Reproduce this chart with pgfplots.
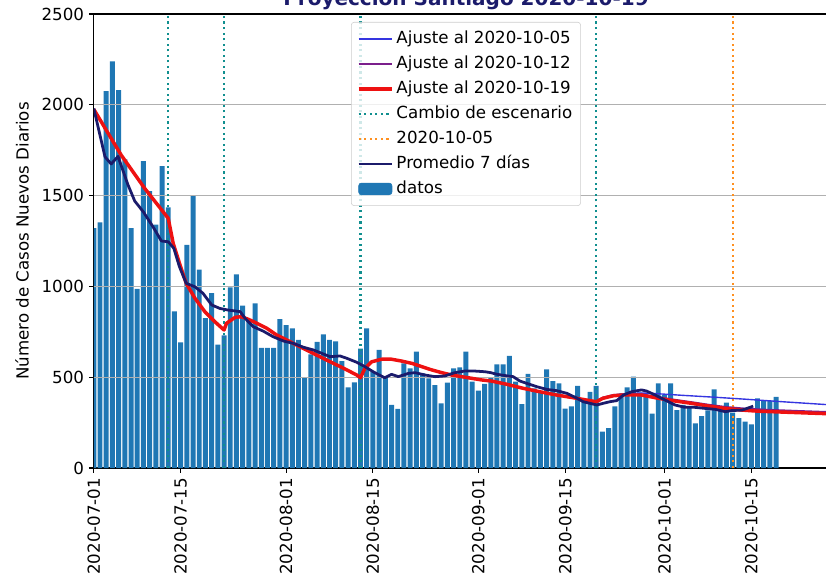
\documentclass[border=0pt]{standalone}
\usepackage{fontspec}
\setmainfont{DejaVu Sans}
\usepackage{pgfplots}
\pgfplotsset{compat=1.18}
\usepackage{pgfplotstable}
\definecolor{barblue}{HTML}{1F77B4}
\definecolor{navyavg}{HTML}{1B1B6B}
\definecolor{fitblue}{HTML}{3535E0}
\definecolor{fitpurple}{HTML}{7B1F8C}
\definecolor{fitred}{HTML}{EE1111}
\definecolor{cambio}{HTML}{108F8F}
\definecolor{orangeline}{HTML}{FF9020}
\definecolor{titlecol}{HTML}{1B1B6B}
\definecolor{gridcol}{HTML}{B0B0B0}

\pgfplotstableread{
day val
0 1321
1 1352
2 2075
3 2239
4 2081
5 1700
6 1321
7 987
8 1690
9 1525
10 1340
11 1663
12 1435
13 862
14 692
15 1229
16 1501
17 1092
18 826
19 963
20 679
21 730
22 995
23 1066
24 894
25 820
26 906
27 662
28 662
29 662
30 820
31 787
32 769
33 705
34 497
35 626
36 695
37 736
38 705
39 697
40 589
41 444
42 472
43 657
44 769
45 530
46 650
47 503
48 347
49 325
50 576
51 549
52 641
53 521
54 494
55 457
56 356
57 470
58 549
59 554
60 641
61 475
62 426
63 463
64 500
65 571
66 571
67 617
68 475
69 352
70 518
71 439
72 420
73 543
74 479
75 466
76 327
77 340
78 452
79 365
80 419
81 452
82 200
83 220
84 340
85 411
86 444
87 503
88 415
89 405
90 300
91 466
92 402
93 466
94 319
95 347
96 332
97 246
98 286
99 317
100 433
101 330
102 360
103 305
104 274
105 255
106 240
107 384
108 371
109 371
110 392
}\datos

\pgfplotstableread{
day val
0 1980
1.8 1714
2.8 1674
3.9 1716
5.5 1560
6.6 1470
8.0 1410
9.6 1325
10.9 1250
12.0 1246
12.9 1210
13.8 1109
14.9 1017
16.3 998
17.6 962
19.0 898
20.3 879
21.6 870
23.6 861
24.4 824
25.7 778
27.3 754
28.9 723
30.6 699
32.2 686
33.8 665
35.4 650
36.5 635
38.1 613
39.7 617
40.8 604
42.4 582
43.7 558
45.3 525
46.9 497
48.0 516
49.1 503
50.7 521
51.8 525
53.4 512
55.0 503
56.6 507
58.2 525
59.8 534
61.4 534
63.1 530
64.0 525
65.0 516
66.7 507
67.6 503
68.7 479
69.8 466
71.4 448
73.0 433
74.6 426
76.3 411
77.9 384
78.9 365
80.0 356
81.1 347
82.1 356
83.2 365
84.3 371
85.4 402
86.7 420
88.3 430
89.1 424
90.5 402
92.1 374
93.7 347
95.3 334
96.9 334
98.6 328
100.2 323
101.8 310
102.8 316
104.5 319
105.8 334
106.3 341
}\promedio

\pgfplotstableread{
day val
0 1975
4.4 1724
8.2 1540
12 1375
12.8 1237
13.9 1118
14.9 1017
16.3 935
17.9 861
19.5 806
21 760
21.4 797
22.8 830
23.8 833
24.9 819
26.3 797
27.9 769
29.5 732
31.1 705
32.7 677
34.3 650
35.9 622
37.5 595
39.2 567
40.8 540
42.4 512
43 497
43.7 549
44.8 585
46.4 599
48.0 599
49.6 589
51.3 576
52.9 558
54.5 540
56.1 525
57.7 512
59.3 503
60.9 494
62.5 485
64.1 479
66.6 461
69.2 439
71.9 420
74.6 402
77.3 387
79.5 374
81 365
82.1 384
83.8 398
85.4 402
88.3 402
91.0 384
93.7 369
96.4 356
99.1 341
101.8 328
104.5 319
107 313
111 308
115 303
120 297
}\ajusteC

\pgfplotstableread{
day val
81 367
82.1 388
83.8 402
85.4 406
88.3 405
91.0 390
93.7 375
96.4 362
99.1 348
101.8 336
104.5 328
108 321
114 313
120 306
}\ajusteB

\pgfplotstableread{
day val
81 368
83 392
85 405
88 413
90 411
95 400
100 390
105 379
111 365
120 345
}\ajusteA

\begin{document}
\begin{tikzpicture}
\begin{axis}[
  scale only axis,
  width=535.9pt, height=326.88pt,
  xmin=0, xmax=120, ymin=0, ymax=2500,
  xtick={0,14,31,45,62,76,92,106},
  xticklabels={2020-07-01,2020-07-15,2020-08-01,2020-08-15,2020-09-01,2020-09-15,2020-10-01,2020-10-15},
  x tick label style={rotate=90, anchor=east, font=\fontsize{12}{14}\selectfont},
  ytick={0,500,1000,1500,2000,2500},
  y tick label style={font=\fontsize{12}{14}\selectfont},
  /pgf/number format/assume math mode=true,
  /pgf/number format/1000 sep={},
  tick align=outside, major tick length=3.5pt,
  xtick pos=bottom, ytick pos=left,
  tick style={black, line width=0.8pt},
  axis line style={line width=0.8pt},
  ylabel={Número de Casos Nuevos Diarios},
  ylabel style={at={(axis description cs:-0.0965,0.5)}, anchor=center, font=\fontsize{12}{14}\selectfont},
  title={Proyección Santiago 2020-10-19},
  every axis title/.style={at={(axis description cs:0.5,1)}, anchor=base, yshift=6pt, font=\fontsize{14.4}{17}\selectfont\bfseries, text=titlecol},
  legend style={at={(axis description cs:0.5,0.9824)}, anchor=north,
    draw=gray!40, rounded corners=2pt, fill=white, fill opacity=0.8, text opacity=1,
    font=\fontsize{12}{14}\selectfont,
    nodes={text height=9pt, text depth=2.7pt, inner ysep=3.15pt},
    row sep=0pt, inner xsep=4pt, inner ysep=3pt},
  legend cell align=left,
  legend image code/.code={\draw[#1] (0pt,0pt) -- (24pt,0pt);},
]
\addlegendimage{fitblue, line width=1pt}
\addlegendentry{Ajuste al 2020-10-05}
\addlegendimage{fitpurple, line width=1.5pt}
\addlegendentry{Ajuste al 2020-10-12}
\addlegendimage{fitred, line width=2.5pt}
\addlegendentry{Ajuste al 2020-10-19}
\addlegendimage{cambio, line width=1.5pt, dash pattern=on 1.5pt off 2.5pt}
\addlegendentry{Cambio de escenario}
\addlegendimage{orangeline, line width=1.5pt, dash pattern=on 1.5pt off 2.5pt}
\addlegendentry{2020-10-05}
\addlegendimage{navyavg, line width=2pt}
\addlegendentry{Promedio 7 días}
\addlegendimage{legend image code/.code={\fill[barblue, fill opacity=1] (0pt,-4.2pt) rectangle (24pt,4.2pt);}}
\addlegendentry{datos}

\addplot[ybar, bar width=0.8, fill=barblue, draw=none, forget plot] table[x=day, y=val] {\datos};

\addplot[gridcol, line width=0.8pt, forget plot] coordinates {(0,500) (120,500)};
\addplot[gridcol, line width=0.8pt, forget plot] coordinates {(0,1000) (120,1000)};
\addplot[gridcol, line width=0.8pt, forget plot] coordinates {(0,1500) (120,1500)};
\addplot[gridcol, line width=0.8pt, forget plot] coordinates {(0,2000) (120,2000)};

\addplot[cambio, line width=1.5pt, dash pattern=on 1.5pt off 2.5pt, forget plot] coordinates {(12,0) (12,2500)};
\addplot[cambio, line width=1.5pt, dash pattern=on 1.5pt off 2.5pt, forget plot] coordinates {(21,0) (21,2500)};
\addplot[cambio, line width=1.5pt, dash pattern=on 1.5pt off 2.5pt, forget plot] coordinates {(43,0) (43,2500)};
\addplot[cambio, line width=1.5pt, dash pattern=on 1.5pt off 2.5pt, forget plot] coordinates {(81,0) (81,2500)};
\addplot[orangeline, line width=1.5pt, dash pattern=on 1.5pt off 2.5pt, forget plot] coordinates {(103,0) (103,2500)};

\addplot[fitblue, line width=1pt, forget plot] table[x=day, y=val] {\ajusteA};
\addplot[fitpurple, line width=1.5pt, forget plot] table[x=day, y=val] {\ajusteB};
\addplot[fitred, line width=2.5pt, line join=round, forget plot] table[x=day, y=val] {\ajusteC};
\addplot[navyavg, line width=2pt, line join=round, forget plot] table[x=day, y=val] {\promedio};
\end{axis}
\pgfresetboundingbox
\path[use as bounding box] (-67.54pt,-79.2pt) rectangle (527.18pt,336.96pt);
\end{tikzpicture}
\end{document}
